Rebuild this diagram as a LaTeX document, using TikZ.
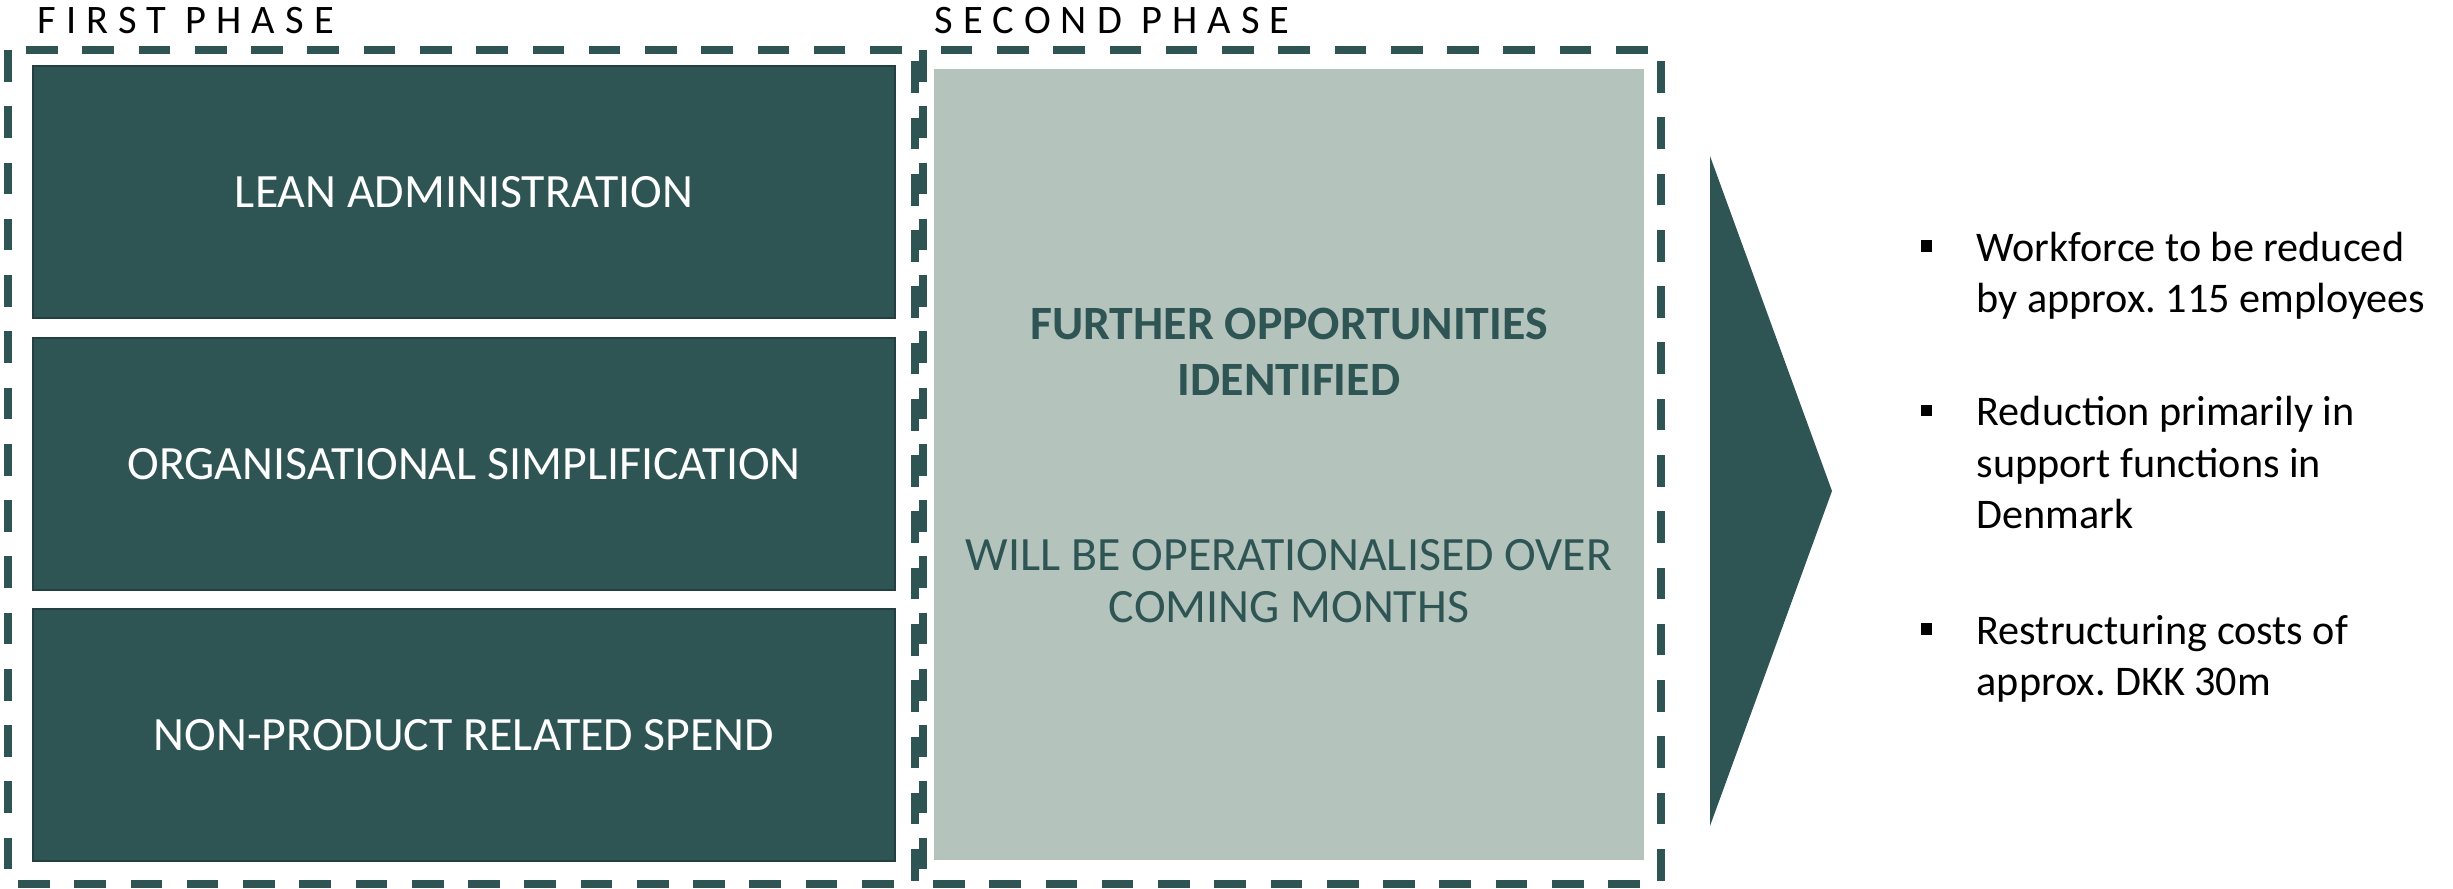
\documentclass[tikz,border=0pt]{standalone}
\usepackage{fontspec}
\setmainfont{Carlito}
\usetikzlibrary{positioning}
\definecolor{phasegreen}{RGB}{46,85,84}
\definecolor{phasesage}{RGB}{180,195,188}
\newcommand\bulletsq{\llap{\raisebox{2.7pt}{\rule{3.3pt}{3.3pt}}\hspace{12.6pt}}}

\begin{document}
\begin{tikzpicture}[x=0.01cm,y=-0.01cm,every node/.style={inner sep=0pt},
phasebox/.style={draw=phasegreen,line width=2pt,dash pattern=on 9pt off 7pt},
itembox/.style={fill=phasegreen,draw=phasegreen!75!black,line width=0.6pt,text=white,
  minimum width=8.61cm,minimum height=2.52cm,font=\fontsize{13.6}{16}\selectfont},
phasetitle/.style={anchor=base west,font=\fontsize{11.5}{14}\selectfont\addfontfeatures{LetterSpace=25}},
sagetext/.style={text=phasegreen,align=center},
note/.style={anchor=base west,align=left,font=\fontsize{12}{14.7}\selectfont}]

\useasboundingbox (0,0) rectangle (2453,889);

\draw[phasebox] (8,50) rectangle (915,884);
\draw[phasebox] (923,50) rectangle (1661,884);
\node[phasetitle] (first) at (37,34) {FIRST PHASE};
\node[phasetitle] (second) at (934,34) {SECOND PHASE};

\foreach \y/\name/\txt in {192/lean/LEAN ADMINISTRATION,464/orgsimp/ORGANISATIONAL SIMPLIFICATION,735/spend/NON-PRODUCT RELATED SPEND}{
\node[itembox] (\name) at (464,\y) {\txt};}

\node[fill=phasesage,minimum width=7.10cm,minimum height=7.91cm] (further) at (1289,464.5) {};
\node[sagetext,font=\fontsize{13.6}{16}\selectfont\bfseries] (opps) at (1289,352) {FURTHER OPPORTUNITIES\\IDENTIFIED};
\node[sagetext,font=\fontsize{13.6}{14.8}\selectfont] (months) at (1289,581) {WILL BE OPERATIONALISED OVER\\COMING MONTHS};

\fill[phasegreen] (1710,156) -- (1832,491) -- (1710,826) -- cycle;

\node[note] (workforce) at (1976,313) {\bulletsq Workforce to be reduced\\by approx.\ 115 employees};
\node[note] (reduction) at (1976,529) {\bulletsq Reduction primarily in\\support functions in\\Denmark};
\node[note] (restructuring) at (1976,696) {\bulletsq Restructuring costs of\\approx.\ DKK 30m};

\end{tikzpicture}
\end{document}
